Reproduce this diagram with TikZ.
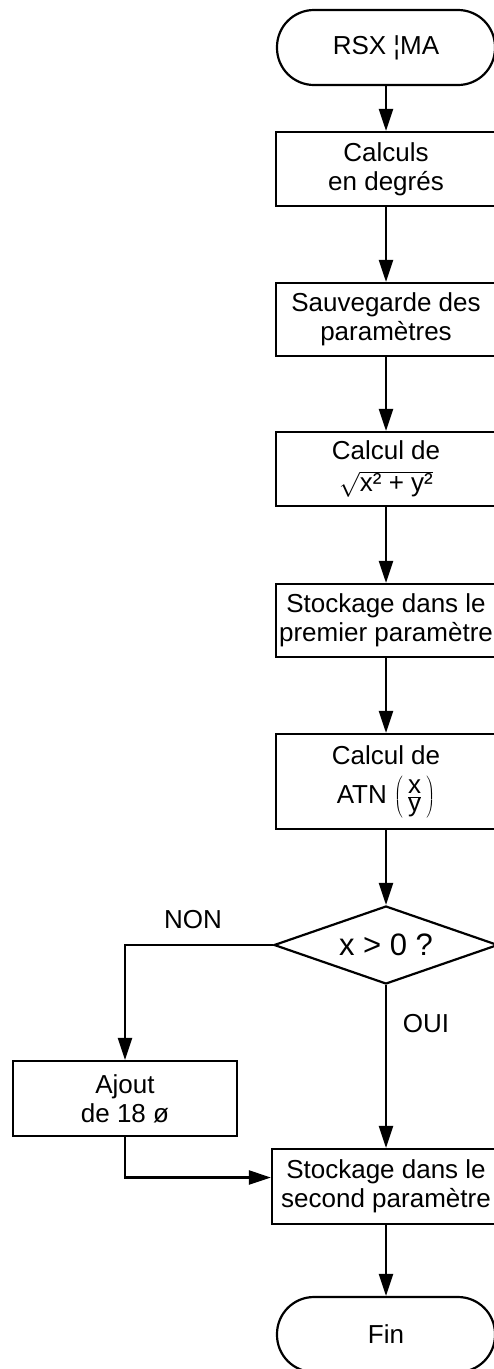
\documentclass[tikz,border=0pt]{standalone}
\usepackage{fontspec}
\setmainfont{Liberation Sans}
\usetikzlibrary{shapes,arrows,positioning,calc,arrows.meta}

\tikzset{
  box/.style={rectangle,draw,minimum width=220pt,align=center,inner sep=2pt},
  term/.style={rectangle,draw,rounded corners=37pt,minimum width=218pt,minimum height=75pt,align=center},
  test/.style={diamond,draw,aspect=2.9,inner sep=0pt,minimum width=224pt,minimum height=78pt}
}

\begin{document}
\begin{tikzpicture}[->,>={Triangle[length=22pt,width=14pt]}, line width=2.2pt, x=1pt, y=-1pt,
  every node/.style={font=\fontsize{26}{29}\selectfont}]
	\useasboundingbox (0,0) rectangle (494,1369);
	\node [term] (start) at (386,47.5) {RSX ¦MA};
	\node [box,minimum height=74pt] (degres) at (386,169) {Calculs\\en degrés};
	\node [box,minimum height=73pt] (sauve) at (386,319.5) {Sauvegarde des\\paramètres};
	\node [box,minimum height=74pt] (racine) at (386,469) {Calcul de\\[3pt]$\sqrt{\mbox{x² + y²}}$};
	\node [box,minimum height=73pt] (stock1) at (386,620.5) {Stockage dans le\\premier paramètre};
	\node [box,minimum height=95pt] (atn) at (386,781.5) {Calcul de\\[10pt]ATN $\left(\,\frac{\mbox{x}}{\mbox{y}}\,\right)$};
	\node [test,font=\fontsize{31}{34}\selectfont] (signe) at (386,945) {x > 0 ?};
	\node [box,minimum width=224pt,minimum height=75pt] (ajout) at (125,1098.5) {Ajout\\de 18 ø};
	\node [box,minimum width=228pt,minimum height=75pt] (stock2) at (386,1186.5) {Stockage dans le\\second paramètre};
	\node [term] (fin) at (386,1334.5) {Fin};
	\node (non) at (193,920) {NON};
	\node (oui) at (426,1024) {OUI};
	\path (start) edge (degres);
	\path (degres) edge (sauve);
	\path (sauve) edge (racine);
	\path (racine) edge (stock1);
	\path (stock1) edge (atn);
	\path (atn) edge (signe);
	\draw[->] (signe.west) -| (ajout.north);
	\draw[->] (signe.south) -- (stock2.north);
	\draw[->] (ajout.south) |- ([yshift=9pt]stock2.west);
	\path (stock2) edge (fin);
\end{tikzpicture}
\end{document}
